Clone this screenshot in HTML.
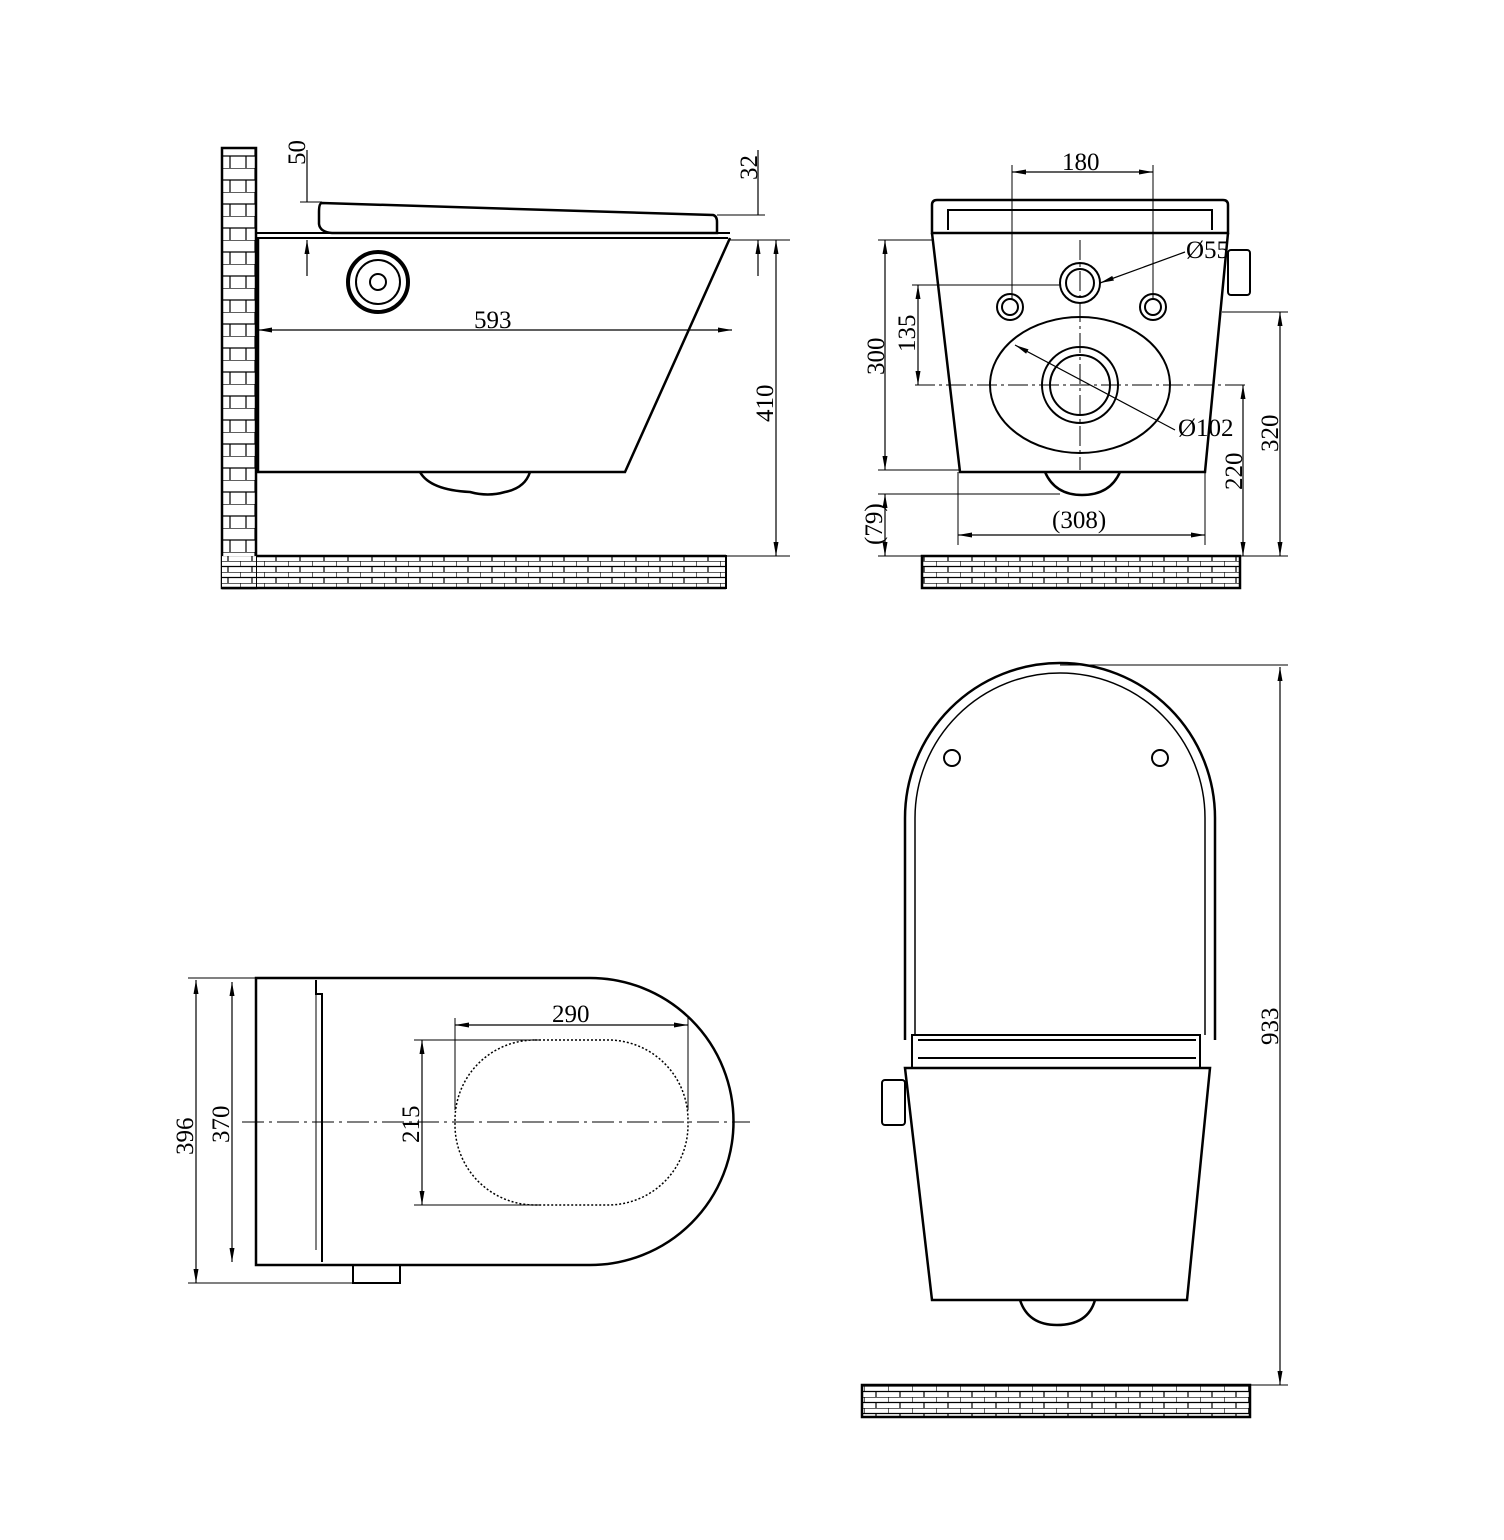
<!DOCTYPE html>
<html><head><meta charset="utf-8"><style>html,body{margin:0;padding:0;background:#fff}svg{display:block}</style></head>
<body>
<svg width="1504" height="1540" viewBox="0 0 1504 1540" xmlns="http://www.w3.org/2000/svg" font-family="'Liberation Serif', serif" font-size="25" fill="none" stroke="#000">
<defs>
<pattern id="bh" width="24" height="11" patternUnits="userSpaceOnUse"><rect width="24" height="11" fill="#fff" stroke="none"/><path d="M0 0H24M0 5.5H24M0 0V5.5M12 5.5V11" stroke="#000" stroke-width="1.2"/></pattern>
<pattern id="bv" width="34" height="24" patternUnits="userSpaceOnUse"><rect width="34" height="24" fill="#fff" stroke="none"/><path d="M0 0H34M0 12H34M17 0V12M8 12V24M26 12V24" stroke="#000" stroke-width="1.2"/></pattern>
<marker id="a" viewBox="0 0 14 10" refX="14" refY="5" markerWidth="14" markerHeight="10" orient="auto-start-reverse" markerUnits="userSpaceOnUse"><path d="M0 2.5L14 5L0 7.5Z" fill="#000" stroke="none"/></marker>
</defs>

<!-- ===== SIDE VIEW ===== -->
<rect x="222" y="148" width="34" height="440" fill="url(#bv)" stroke-width="2.5"/>
<rect x="256" y="556" width="470" height="32" fill="url(#bh)" stroke-width="2"/>
<rect x="222" y="556" width="34" height="32" fill="url(#bh)" stroke="none"/>
<path d="M256 556H726M256 588H726M222 588H256" stroke-width="2.5"/>
<!-- lid -->
<path d="M322 203L713 215Q717 216 717 222V233L332 233Q320 232 319 224V212Q319 203 322 203Z" stroke-width="2.5"/>
<path d="M256 233H730M256 238H728" stroke-width="2"/>
<!-- body -->
<path d="M258 238V472H625L730 238" stroke-width="2.5"/>
<path d="M420 472Q430 490 470 492Q488 497 505 492Q525 488 530 472" stroke-width="2.5"/>
<circle cx="378" cy="282" r="30" stroke-width="4"/><circle cx="378" cy="282" r="22" stroke-width="2"/><circle cx="378" cy="282" r="8" stroke-width="2"/>
<!-- dims -->
<path d="M258 330H732" stroke-width="1.2" marker-start="url(#a)" marker-end="url(#a)"/>
<text x="474" y="328" fill="#000" stroke="none">593</text>
<path d="M307 150V202M307 276V240" stroke-width="1.2" marker-end="url(#a)"/>
<path d="M300 202H322" stroke-width="1"/>
<text transform="translate(305,165) rotate(-90)" fill="#000" stroke="none">50</text>
<path d="M758 150V215M758 276V240" stroke-width="1.2" marker-end="url(#a)"/>
<path d="M717 215H765M730 240H790M726 556H790" stroke-width="1"/>
<text transform="translate(757,180) rotate(-90)" fill="#000" stroke="none">32</text>
<path d="M776 240V556" stroke-width="1.2" marker-start="url(#a)" marker-end="url(#a)"/>
<text transform="translate(773,422) rotate(-90)" fill="#000" stroke="none">410</text>

<!-- ===== FRONT VIEW ===== -->
<rect x="922" y="556" width="318" height="32" fill="url(#bh)" stroke-width="2.5"/>
<path d="M932 233V205Q932 200 937 200H1223Q1228 200 1228 205V233Z" stroke-width="2.5"/>
<path d="M948 230V210H1212V230" stroke-width="2"/>
<path d="M932 233L960 472H1205L1228 233" stroke-width="2.5"/>
<path d="M1045 472Q1055 495 1082 495Q1110 495 1120 472" stroke-width="2.5"/>
<rect x="1228" y="250" width="22" height="45" rx="3" stroke-width="2"/>
<circle cx="1080" cy="283" r="20" stroke-width="2"/><circle cx="1080" cy="283" r="14" stroke-width="2"/>
<circle cx="1010" cy="307" r="13" stroke-width="2"/><circle cx="1010" cy="307" r="8" stroke-width="2"/>
<circle cx="1153" cy="307" r="13" stroke-width="2"/><circle cx="1153" cy="307" r="8" stroke-width="2"/>
<ellipse cx="1080" cy="385" rx="90" ry="68" stroke-width="2"/>
<circle cx="1080" cy="385" r="38" stroke-width="2"/><circle cx="1080" cy="385" r="30" stroke-width="2"/>
<path d="M915 385H1245M1080 240V470" stroke-width="1" stroke-dasharray="20 4 3 4"/>
<path d="M1012 172H1153" stroke-width="1.2" marker-start="url(#a)" marker-end="url(#a)"/>
<path d="M1012 165V300M1153 165V300" stroke-width="1"/>
<text x="1062" y="170" fill="#000" stroke="none">180</text>
<path d="M1185 252L1100 283" stroke-width="1.2" marker-end="url(#a)"/>
<text x="1186" y="258" fill="#000" stroke="none">Ø55</text>
<path d="M1175 430L1015 345" stroke-width="1.2" marker-end="url(#a)"/>
<text x="1178" y="436" fill="#000" stroke="none">Ø102</text>
<path d="M885 240V470" stroke-width="1.2" marker-start="url(#a)" marker-end="url(#a)"/>
<path d="M878 240H932M878 470H960M878 494H1060M878 556H922" stroke-width="1"/>
<text transform="translate(884,375) rotate(-90)" fill="#000" stroke="none">300</text>
<path d="M918 285V385" stroke-width="1.2" marker-start="url(#a)" marker-end="url(#a)"/>
<path d="M912 285H1060" stroke-width="1"/>
<text transform="translate(915,352) rotate(-90)" fill="#000" stroke="none">135</text>
<path d="M885 494V556" stroke-width="1.2" marker-start="url(#a)" marker-end="url(#a)"/>
<text transform="translate(882,545) rotate(-90)" fill="#000" stroke="none">(79)</text>
<path d="M958 535H1205" stroke-width="1.2" marker-start="url(#a)" marker-end="url(#a)"/>
<path d="M958 472V545M1205 472V545" stroke-width="1"/>
<text x="1052" y="528" fill="#000" stroke="none">(308)</text>
<path d="M1243 385V556" stroke-width="1.2" marker-start="url(#a)" marker-end="url(#a)"/>
<text transform="translate(1242,490) rotate(-90)" fill="#000" stroke="none">220</text>
<path d="M1280 312V556" stroke-width="1.2" marker-start="url(#a)" marker-end="url(#a)"/>
<path d="M1222 312H1288M1240 556H1288" stroke-width="1"/>
<text transform="translate(1278,452) rotate(-90)" fill="#000" stroke="none">320</text>

<!-- ===== TOP VIEW ===== -->
<path d="M256 978H590A143.5 143.5 0 0 1 590 1265H256Z" stroke-width="2.5"/>
<path d="M316 980V994H322V1262" stroke-width="2"/>
<path d="M316 994V1250" stroke-width="1"/>
<rect x="455" y="1040" width="233" height="165" rx="80" ry="80" stroke-width="1.5" stroke-dasharray="2 2"/>
<path d="M242 1122H750" stroke-width="1" stroke-dasharray="22 5 3 5"/>
<rect x="353" y="1265" width="47" height="18" stroke-width="2"/>
<path d="M196 980V1283" stroke-width="1.2" marker-start="url(#a)" marker-end="url(#a)"/>
<path d="M188 978H256M188 1283H353" stroke-width="1"/>
<text transform="translate(193,1155) rotate(-90)" fill="#000" stroke="none">396</text>
<path d="M232 982V1262" stroke-width="1.2" marker-start="url(#a)" marker-end="url(#a)"/>
<text transform="translate(229,1143) rotate(-90)" fill="#000" stroke="none">370</text>
<path d="M422 1040V1205" stroke-width="1.2" marker-start="url(#a)" marker-end="url(#a)"/>
<path d="M414 1040H540M414 1205H540" stroke-width="1"/>
<text transform="translate(419,1143) rotate(-90)" fill="#000" stroke="none">215</text>
<path d="M455 1025H688" stroke-width="1.2" marker-start="url(#a)" marker-end="url(#a)"/>
<path d="M455 1018V1110M688 1018V1110" stroke-width="1"/>
<text x="552" y="1022" fill="#000" stroke="none">290</text>

<!-- ===== FRONT WITH OPEN LID ===== -->
<path d="M905 1040V818A155 155 0 0 1 1215 818V1040" stroke-width="2.5"/>
<path d="M915 1035V818A145 145 0 0 1 1205 818V1035" stroke-width="1.5"/>
<circle cx="952" cy="758" r="8" stroke-width="2"/><circle cx="1160" cy="758" r="8" stroke-width="2"/>
<path d="M912 1068V1035H1200V1068M918 1040H1196M918 1058H1196" stroke-width="2"/>
<path d="M905 1068H1210L1187 1300H932Z" stroke-width="2.5"/>
<path d="M1020 1300Q1028 1325 1057 1325Q1088 1325 1095 1300" stroke-width="2.5"/>
<rect x="882" y="1080" width="23" height="45" rx="3" stroke-width="2"/>
<rect x="862" y="1385" width="388" height="32" fill="url(#bh)" stroke-width="2.5"/>
<path d="M1280 667V1385" stroke-width="1.2" marker-start="url(#a)" marker-end="url(#a)"/>
<path d="M1060 665H1288M1250 1385H1288" stroke-width="1"/>
<text transform="translate(1278,1045) rotate(-90)" fill="#000" stroke="none">933</text>
</svg>
</body></html>
